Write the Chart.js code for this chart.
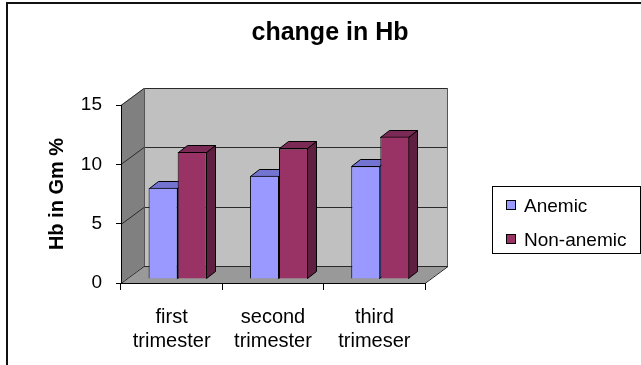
<!DOCTYPE html>
<html>
<head>
<meta charset="utf-8">
<script src="https://cdn.jsdelivr.net/npm/chart.js@4/dist/chart.umd.min.js"></script>
<style>
  html, body { margin: 0; padding: 0; background: #fff; overflow: hidden; }
  canvas { display: block; }
</style>
</head>
<body>
<canvas id="c" width="641" height="365"></canvas>
<script>
// Haemoglobin (Gm %) by trimester
const categories = [['first', 'trimester'], ['second', 'trimester'], ['third', 'trimeser']];
const seriesNames = ['Anemic', 'Non-anemic'];
const anemic = [7.7, 8.7, 9.5];
const nonAnemic = [10.7, 11.0, 12.0];
const yTicks = [0, 5, 10, 15];

const FONT = "'Liberation Sans', Arial, sans-serif";
const seriesColors = ['#9999ff', '#993366'];
const faceColors = [
  { top: '#7373d2', side: '#6767bd' },
  { top: '#7b2a55', side: '#5f1f41' }
];
const WALL_DEPTH = { dx: 23, dy: -17 };  // depth of the box walls
const BAR_SHIFT = { dx: 6, dy: -4 };     // bars stand slightly behind the front plane
const BAR_DEPTH = { dx: 9, dy: -7 };     // thickness of each column

function poly(ctx, pts, fill, stroke) {
  ctx.beginPath();
  ctx.moveTo(pts[0][0], pts[0][1]);
  for (let i = 1; i < pts.length; i++) ctx.lineTo(pts[i][0], pts[i][1]);
  ctx.closePath();
  if (fill) { ctx.fillStyle = fill; ctx.fill(); }
  if (stroke) { ctx.strokeStyle = stroke; ctx.lineWidth = 1; ctx.stroke(); }
}

// White page, frame, back wall, side wall, floor and wall gridlines
const backdrop = {
  id: 'backdrop',
  beforeDraw(chart) {
    const { ctx, chartArea: a, scales: { y } } = chart;
    const dx = WALL_DEPTH.dx, dy = WALL_DEPTH.dy;
    const L = a.left, R = a.right, T = a.top, B = a.bottom;
    ctx.save();
    ctx.fillStyle = '#fff';
    ctx.fillRect(0, 0, chart.width, chart.height);

    // outer frame
    ctx.strokeStyle = '#111';
    ctx.lineWidth = 2;
    ctx.beginPath();
    ctx.moveTo(7, chart.height + 2);
    ctx.lineTo(7, 3);
    ctx.lineTo(chart.width + 2, 3);
    ctx.stroke();

    // back wall
    poly(ctx, [[L + dx, T + dy], [R + dx, T + dy], [R + dx, B + dy], [L + dx, B + dy]], '#c0c0c0', null);
    // side wall
    poly(ctx, [[L, T], [L + dx, T + dy], [L + dx, B + dy], [L, B]], '#808080', null);
    // floor
    poly(ctx, [[L, B], [R, B], [R + dx, B + dy], [L + dx, B + dy]], '#999999', null);

    // gridlines across side wall and back wall
    ctx.strokeStyle = '#2a2a2a';
    ctx.lineWidth = 1;
    yTicks.forEach(v => {
      const py = Math.round(y.getPixelForValue(v)) + 0.5;
      ctx.beginPath();
      ctx.moveTo(L, py);
      ctx.lineTo(L + dx, py + dy);
      ctx.lineTo(R + dx, py + dy);
      ctx.stroke();
    });

    // edges of the box
    ctx.strokeStyle = '#555';
    ctx.beginPath();
    ctx.moveTo(L + dx + 0.5, B + dy);
    ctx.lineTo(L + dx + 0.5, T + dy);
    ctx.moveTo(R + dx - 0.5, T + dy);
    ctx.lineTo(R + dx - 0.5, B + dy);
    ctx.stroke();
    ctx.strokeStyle = '#222';
    ctx.beginPath();
    ctx.moveTo(R, B + 0.5);
    ctx.lineTo(R + dx, B + dy + 0.5);
    ctx.stroke();
    ctx.restore();
  }
};

// Tops and right-hand sides of the columns; columns are shifted back a little
const bar3d = {
  id: 'bar3d',
  beforeDatasetsDraw(chart) {
    const ctx = chart.ctx;
    ctx.save();
    ctx.translate(BAR_SHIFT.dx, BAR_SHIFT.dy);
    const bdx = BAR_DEPTH.dx, bdy = BAR_DEPTH.dy;
    chart.data.datasets.forEach((ds, i) => {
      const meta = chart.getDatasetMeta(i);
      meta.data.forEach(bar => {
        const { x, y, base, width } = bar.getProps(['x', 'y', 'base', 'width'], true);
        const l = Math.round(x - width / 2) + 0.5, r = Math.round(x + width / 2) - 0.5;
        const t = Math.round(y) + 0.5, b = Math.round(base) - 0.5;
        poly(ctx, [[r, t], [r + bdx, t + bdy], [r + bdx, b + bdy], [r, b]], faceColors[i].side, '#000');
        poly(ctx, [[l, t], [l + bdx, t + bdy], [r + bdx, t + bdy], [r, t]], faceColors[i].top, '#000');
      });
    });
  },
  afterDatasetsDraw(chart) {
    chart.ctx.restore();
  }
};

// Boxed legend on the right
const legendBox = {
  id: 'legendBox',
  afterDraw(chart) {
    const ctx = chart.ctx;
    ctx.save();
    ctx.strokeStyle = '#000';
    ctx.lineWidth = 1;
    ctx.strokeRect(492.5, 186.5, 148, 67);
    ctx.font = '19px ' + FONT;
    ctx.textBaseline = 'alphabetic';
    ctx.textAlign = 'left';
    const rows = [201, 235];
    chart.data.datasets.forEach((ds, i) => {
      ctx.fillStyle = ds.backgroundColor;
      ctx.fillRect(507, rows[i], 8, 8);
      ctx.strokeStyle = '#000';
      ctx.strokeRect(506.5, rows[i] - 0.5, 9, 9);
      ctx.fillStyle = '#000';
      ctx.fillText(ds.label, 524, rows[i] + 11);
    });
    ctx.restore();
  }
};

new Chart(document.getElementById('c'), {
  type: 'bar',
  data: {
    labels: categories,
    datasets: [
      { label: seriesNames[0], data: anemic, backgroundColor: seriesColors[0] },
      { label: seriesNames[1], data: nonAnemic, backgroundColor: seriesColors[1] }
    ]
  },
  options: {
    responsive: false,
    animation: false,
    devicePixelRatio: 1,
    datasets: {
      bar: {
        categoryPercentage: 0.574,
        barPercentage: 1,
        borderColor: '#000',
        borderWidth: 1,
        clip: false
      }
    },
    layout: { padding: { left: 19, right: 0, top: 0, bottom: 0 } },
    plugins: {
      legend: { display: false },
      tooltip: { enabled: false },
      title: {
        display: true,
        text: 'change in Hb',
        color: '#000',
        font: { family: FONT, size: 25, weight: 'bold' },
        padding: { top: 18, bottom: 57 }
      }
    },
    scales: {
      x: {
        grid: { offset: true, drawOnChartArea: false, tickLength: 7, color: '#000' },
        border: { color: '#000' },
        ticks: {
          color: '#000',
          font: { family: FONT, size: 20, lineHeight: '24px' },
          padding: 15,
          maxRotation: 0,
          autoSkip: false
        },
        afterFit(s) { s.height = 82; }
      },
      y: {
        min: 0,
        max: 15,
        afterBuildTicks(s) { s.ticks = yTicks.map(v => ({ value: v })); },
        grid: { drawOnChartArea: false, tickLength: 5, color: '#000' },
        border: { color: '#000' },
        ticks: { color: '#000', font: { family: FONT, size: 19 }, padding: 14 },
        title: {
          display: true,
          text: 'Hb in Gm %',
          color: '#000',
          font: { family: FONT, size: 20, weight: 'bold' },
          padding: { top: 26.5, bottom: 0 }
        },
        afterFit(s) { s.width = 102; }
      },
      legendSpace: {
        type: 'linear',
        position: 'right',
        display: true,
        grid: { display: false },
        ticks: { display: false },
        border: { display: false },
        afterFit(s) { s.width = 216; }
      }
    }
  },
  plugins: [backdrop, bar3d, legendBox]
});
</script>
</body>
</html>
